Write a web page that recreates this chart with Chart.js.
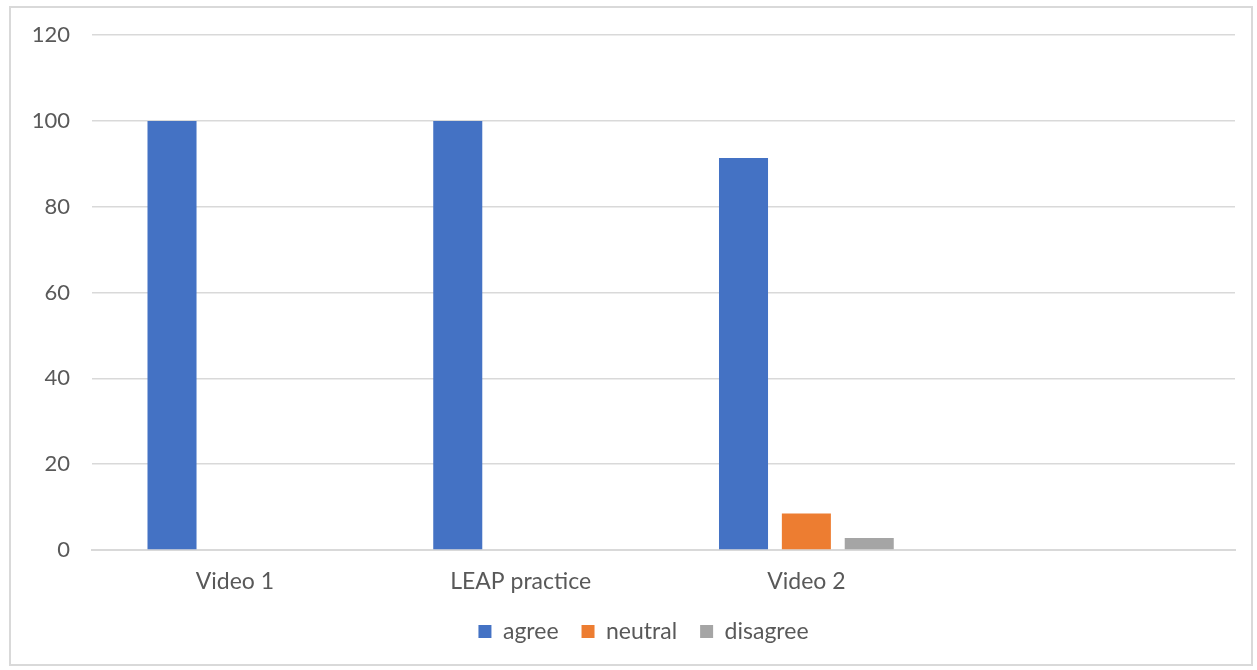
<!DOCTYPE html>
<html>
<head>
<meta charset="utf-8">
<script src="https://cdn.jsdelivr.net/npm/chart.js@4"></script>
<style>
  html, body { margin: 0; padding: 0; background: #fff; }
  #wrap { position: relative; width: 1257px; height: 670px; }
  #frame { position: absolute; left: 9px; top: 6px; width: 1244px; height: 660px; border: 2px solid #d9d9d9; box-sizing: border-box; pointer-events: none; }
  canvas { position: absolute; left: 0; top: 0; }
</style>
</head>
<body>
<div id="wrap">
  <canvas id="c" width="1257" height="670"></canvas>
  <div id="frame"></div>
</div>
<script>
const categories = ['Video 1', 'LEAP practice', 'Video 2', ''];
const agree = [100, 100, 91.4, null];
const neutral = [0, 0, 8.5, null];
const disagree = [0, 0, 2.8, null];
const yTicks = [0, 20, 40, 60, 80, 100, 120];

const FONT = 'Lato, "Open Sans", sans-serif';
const TEXT = '#595959';

// centre the legend under the plot area rather than the whole canvas
const legendShift = {
  id: 'legendShift',
  afterLayout(chart) {
    const lg = chart.legend;
    const dx = (chart.chartArea.left + chart.chartArea.right) / 2 - (lg.left + lg.right) / 2 - 20;
    lg.left += dx;
    lg.right += dx;
  }
};

new Chart(document.getElementById('c'), {
  type: 'bar',
  data: {
    labels: categories,
    datasets: [
      { label: 'agree', data: agree, backgroundColor: '#4472C4' },
      { label: 'neutral', data: neutral, backgroundColor: '#ED7D31' },
      { label: 'disagree', data: disagree, backgroundColor: '#A5A5A5' }
    ]
  },
  plugins: [legendShift],
  options: {
    responsive: false,
    animation: false,
    devicePixelRatio: 1,
    datasets: { bar: { categoryPercentage: 0.66, barPercentage: 0.78 } },
    layout: { padding: { left: 0, right: 22, top: 24, bottom: 17 } },
    plugins: {
      tooltip: { enabled: false },
      legend: {
        position: 'bottom',
        labels: {
          boxWidth: 13, boxHeight: 13, padding: 23,
          color: TEXT, font: { family: FONT, size: 23 }
        }
      }
    },
    scales: {
      x: {
        grid: { display: false, drawTicks: false },
        border: { display: true, color: '#d9d9d9', width: 2 },
        ticks: { color: TEXT, font: { family: FONT, size: 23 }, padding: 18 },
        afterFit: (s) => { s.height = 47; }
      },
      y: {
        min: 0, max: 120,
        afterBuildTicks: (s) => { s.ticks = yTicks.map(v => ({ value: v })); },
        afterFit: (s) => { s.width = 92; },
        grid: { color: '#d9d9d9', lineWidth: 1.5, drawTicks: false },
        border: { display: false },
        ticks: { color: TEXT, font: { family: FONT, size: 22 }, padding: 22 }
      }
    }
  }
});
</script>
</body>
</html>
